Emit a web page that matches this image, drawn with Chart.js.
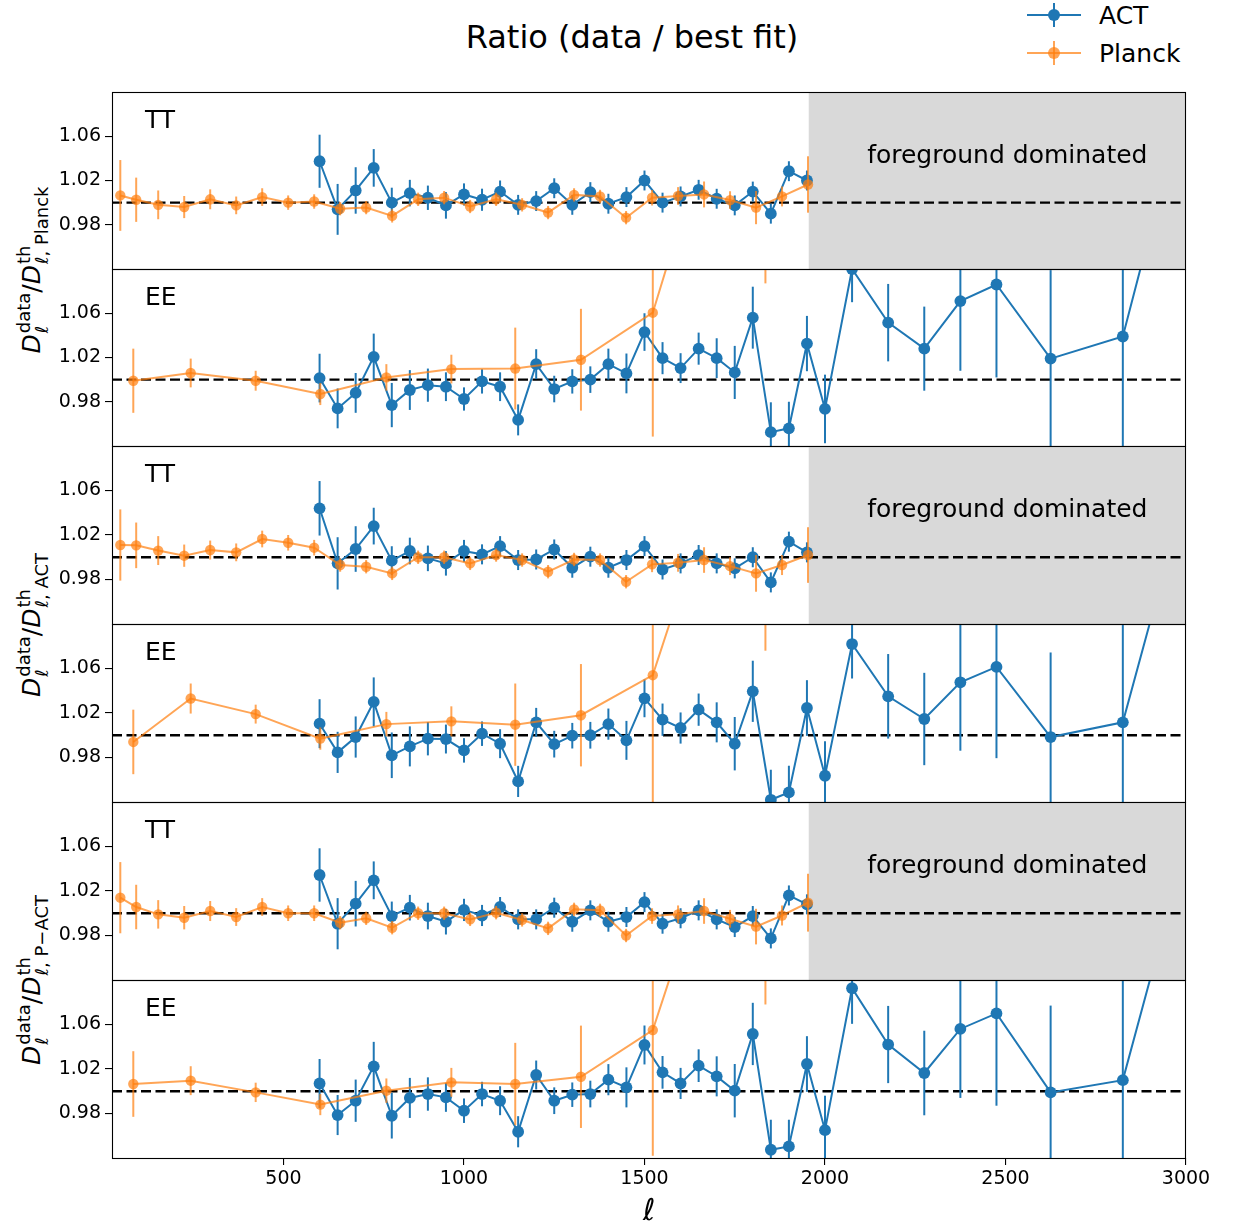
<!DOCTYPE html>
<html>
<head>
<meta charset="utf-8">
<script src="https://cdn.jsdelivr.net/npm/chart.js@4.4.1/dist/chart.umd.min.js"></script>
<style>
body { margin: 0; background: #fff; font-family: 'DejaVu Sans', sans-serif; }
#wrap { position: relative; width: 1233px; height: 1230px; overflow: hidden; background: #fff; }
#wrap canvas { position: absolute; left: 0; }
.title { position: absolute; left: 632px; top: 37px; transform: translate(-50%, -50%); font-size: 32px; white-space: nowrap; }
.leg { position: absolute; left: 1099px; transform: translateY(-50%); font-size: 25px; white-space: nowrap; }
.hl { position: absolute; left: 1027px; width: 54px; height: 2px; }
.hb { position: absolute; left: 1053px; width: 2px; height: 24px; }
.hd { position: absolute; left: 1048px; width: 12px; height: 12px; border-radius: 50%; }
.ylab { position: absolute; left: 33px; transform: translate(-50%, -50%) rotate(-90deg); font-size: 25px; white-space: nowrap; }
.ss { display: inline-block; vertical-align: middle; font-size: 18px; line-height: 18px; text-align: left; margin-left: 1px; }
.ss span { display: block; }
</style>
</head>
<body>
<div id="wrap">
  <div class="title">Ratio (data / best fit)</div>

  <div class="hl" style="top:14px;background:#1f77b4"></div>
  <div class="hb" style="top:3px;background:#1f77b4"></div>
  <div class="hd" style="top:9px;background:#1f77b4"></div>
  <div class="leg" style="top:15px">ACT</div>
  <div class="hl" style="top:52px;background:rgba(255,127,14,0.7)"></div>
  <div class="hb" style="top:41px;background:rgba(255,127,14,0.7)"></div>
  <div class="hd" style="top:47px;background:rgba(255,127,14,0.7)"></div>
  <div class="leg" style="top:53px">Planck</div>

  <div class="ylab" style="top:270px"><i>D</i><span class="ss"><span>data</span><span><i>ℓ</i></span></span>/<i>D</i><span class="ss"><span>th</span><span><i>ℓ</i>, Planck</span></span></div>
  <div class="ylab" style="top:625px"><i>D</i><span class="ss"><span>data</span><span><i>ℓ</i></span></span>/<i>D</i><span class="ss"><span>th</span><span><i>ℓ</i>, ACT</span></span></div>
  <div class="ylab" style="top:980px"><i>D</i><span class="ss"><span>data</span><span><i>ℓ</i></span></span>/<i>D</i><span class="ss"><span>th</span><span><i>ℓ</i>, P−ACT</span></span></div>
</div>
<script>
Chart.defaults.font.family = "'DejaVu Sans', sans-serif";
Chart.defaults.color = '#000';

// multipoles
const ellACT_TT = [600, 650, 700, 750, 800, 850, 900, 950, 1000, 1050, 1100, 1150, 1200, 1250, 1300,
  1350, 1400, 1450, 1500, 1550, 1600, 1650, 1700, 1750, 1800, 1850, 1900, 1950];
const ellACT_EE = [600, 650, 700, 750, 800, 850, 900, 950, 1000, 1050, 1100, 1150, 1200, 1250, 1300,
  1350, 1400, 1450, 1500, 1550, 1600, 1650, 1700, 1750, 1800, 1850, 1900, 1950,
  2000, 2075, 2175, 2275, 2375, 2475, 2625, 2825, 3025];
const ellPlanck_TT = [48, 92, 153, 225, 297, 369, 441, 513, 585, 657, 729, 801, 873, 945, 1017, 1089,
  1161, 1233, 1305, 1377, 1449, 1521, 1593, 1665, 1737, 1809, 1881, 1953];
const ellPlanck_EE = [84, 243, 423, 602, 785, 965, 1142, 1324, 1523, 1700, 1835];

// ratio to Planck best fit
const actTT_planck = [1.0374, 0.9939, 1.011, 1.0314, 1.000, 1.0086, 1.0044, 0.9975, 1.0074, 1.0026, 1.010, 0.998, 1.0014, 1.013,
  0.998, 1.0095, 0.999, 1.005, 1.020, 1.000, 1.0056, 1.0116, 1.0035, 0.9975, 1.010, 0.990, 1.0284, 1.020];
const actTT_planck_err = [0.024, 0.023, 0.021, 0.017, 0.0135, 0.012, 0.011, 0.012, 0.010, 0.010, 0.010, 0.009, 0.009, 0.009,
  0.009, 0.009, 0.009, 0.009, 0.009, 0.009, 0.009, 0.009, 0.009, 0.009, 0.009, 0.009, 0.009, 0.009];
const plTT_planck = [1.0065, 1.0026, 0.998, 0.996, 1.003, 0.9975, 1.005, 1.000, 1.001, 0.9945, 0.9955, 0.988, 1.003, 1.0045,
  0.9965, 1.003, 0.998, 0.991, 1.007, 1.0056, 0.9864, 1.0044, 1.006, 1.0074, 1.0023, 0.9955, 1.0056, 1.0164];
const plTT_planck_err = [0.032, 0.020, 0.013, 0.010, 0.009, 0.008, 0.008, 0.0065, 0.0065, 0.006, 0.006, 0.006, 0.006, 0.006,
  0.006, 0.006, 0.006, 0.006, 0.006, 0.006, 0.006, 0.007, 0.008, 0.0117, 0.008, 0.015, 0.009, 0.0255];
const actEE_planck = [1.0014, 0.974, 0.988, 1.0206, 0.977, 0.9906, 0.995, 0.9936, 0.9825, 0.9984, 0.9936, 0.9636, 1.014, 0.9915,
  0.9984, 1.000, 1.014, 1.0056, 1.043, 1.0194, 1.0104, 1.028, 1.0194, 1.0065, 1.056, 0.9525, 0.956, 1.0326,
  0.9735, 1.100, 1.0515, 1.028, 1.071, 1.086, 1.019, 1.039, 1.29];
const actEE_planck_err = [0.022, 0.018, 0.018, 0.021, 0.020, 0.018, 0.015, 0.013, 0.0105, 0.011, 0.013, 0.014, 0.0135, 0.012,
  0.011, 0.012, 0.014, 0.018, 0.017, 0.0145, 0.0135, 0.0145, 0.018, 0.024, 0.028, 0.027, 0.024, 0.025,
  0.031, 0.030, 0.035, 0.038, 0.063, 0.084, 0.080, 0.10, 0.12];
const plEE_planck = [0.999, 1.006, 0.999, 0.987, 1.002, 1.0095, 1.010, 1.018, 1.0605, 1.25, 1.20];
const plEE_planck_err = [0.029, 0.013, 0.009, 0.010, 0.012, 0.013, 0.037, 0.046, 0.112, 0.10, 0.113];

// ratio to ACT best fit
const actTT_act = [1.044, 0.9945, 1.0074, 1.028, 0.9969, 1.0056, 0.999, 0.9945, 1.0056, 1.0026, 1.010, 0.9975, 0.998, 1.007,
  0.9906, 1.0005, 0.9906, 0.9975, 1.010, 0.989, 0.9945, 1.002, 0.9945, 0.990, 1.000, 0.9774, 1.014, 1.0044];
const actTT_act_err = [0.0245, 0.0235, 0.0205, 0.0165, 0.013, 0.012, 0.0115, 0.011, 0.010, 0.009, 0.009, 0.009, 0.009, 0.009,
  0.009, 0.009, 0.009, 0.009, 0.009, 0.009, 0.009, 0.009, 0.009, 0.009, 0.009, 0.009, 0.009, 0.009];
const plTT_act = [1.011, 1.0107, 1.006, 1.0014, 1.0065, 1.0044, 1.0164, 1.013, 1.0086, 0.993, 0.9915, 0.9855, 1.000, 1.000,
  0.9945, 1.002, 0.9975, 0.987, 0.998, 0.9975, 0.978, 0.9936, 0.995, 0.9975, 0.992, 0.9855, 0.993, 1.002];
const plTT_act_err = [0.032, 0.0205, 0.013, 0.010, 0.0085, 0.008, 0.0075, 0.007, 0.007, 0.006, 0.006, 0.006, 0.006, 0.006,
  0.006, 0.006, 0.006, 0.006, 0.006, 0.006, 0.006, 0.007, 0.008, 0.0115, 0.008, 0.0165, 0.009, 0.025];
const actEE_act = [1.0104, 0.9846, 0.9984, 1.030, 0.982, 0.990, 0.9969, 0.9966, 0.9864, 1.0014, 0.9924, 0.9585, 1.0116, 0.992,
  0.9996, 1.000, 1.010, 0.9954, 1.0332, 1.014, 1.0065, 1.023, 1.0116, 0.9924, 1.0395, 0.942, 0.9486, 1.0245,
  0.9636, 1.082, 1.035, 1.0146, 1.0476, 1.0614, 0.9984, 1.0116, 1.25];
const actEE_act_err = [0.022, 0.0185, 0.0185, 0.022, 0.0205, 0.018, 0.015, 0.013, 0.011, 0.011, 0.013, 0.014, 0.013, 0.012,
  0.0115, 0.012, 0.014, 0.0175, 0.017, 0.0145, 0.014, 0.0145, 0.018, 0.024, 0.0275, 0.027, 0.024, 0.025,
  0.031, 0.031, 0.038, 0.0415, 0.0615, 0.082, 0.076, 0.10, 0.12];
const plEE_act = [0.994, 1.033, 1.019, 0.997, 1.010, 1.0125, 1.0095, 1.018, 1.054, 1.23, 1.19];
const plEE_act_err = [0.029, 0.0135, 0.0085, 0.010, 0.011, 0.0135, 0.037, 0.046, 0.114, 0.10, 0.114];

// ratio to P-ACT best fit
const actTT_pact = [1.0344, 0.9906, 1.0086, 1.0296, 0.9975, 1.005, 0.9975, 0.9924, 1.003, 0.998, 1.0056, 0.9945, 0.9945, 1.005,
  0.9924, 1.0026, 0.9924, 0.9966, 1.010, 0.9906, 0.9955, 1.0026, 0.9945, 0.9876, 0.9975, 0.9774, 1.016, 1.008];
const actTT_pact_err = [0.024, 0.023, 0.0205, 0.017, 0.013, 0.0115, 0.012, 0.0115, 0.010, 0.0095, 0.009, 0.009, 0.009, 0.009,
  0.009, 0.009, 0.009, 0.009, 0.009, 0.009, 0.009, 0.009, 0.009, 0.009, 0.009, 0.009, 0.009, 0.009];
const plTT_pact = [1.014, 1.0056, 0.999, 0.996, 1.002, 0.9966, 1.0056, 1.000, 1.000, 0.9915, 0.9955, 0.987, 1.000, 1.000,
  0.9945, 1.0005, 0.994, 0.9864, 1.0035, 1.0026, 0.980, 0.9975, 0.999, 1.002, 0.995, 0.988, 0.998, 1.0095];
const plTT_pact_err = [0.032, 0.020, 0.0128, 0.0105, 0.009, 0.008, 0.008, 0.007, 0.007, 0.006, 0.006, 0.006, 0.006, 0.006,
  0.006, 0.006, 0.006, 0.006, 0.006, 0.006, 0.006, 0.007, 0.008, 0.0115, 0.008, 0.016, 0.009, 0.026];
const actEE_pact = [1.007, 0.9786, 0.9915, 1.0224, 0.978, 0.994, 0.9975, 0.9945, 0.9825, 0.9975, 0.9915, 0.9636, 1.0146, 0.9915,
  0.9969, 0.9975, 1.0104, 1.0035, 1.0416, 1.017, 1.007, 1.023, 1.0134, 1.0005, 1.0515, 0.9474, 0.9504, 1.0245,
  0.965, 1.0926, 1.042, 1.0164, 1.056, 1.070, 0.999, 1.010, 1.25];
const actEE_pact_err = [0.022, 0.018, 0.019, 0.022, 0.0205, 0.018, 0.015, 0.013, 0.011, 0.011, 0.013, 0.014, 0.013, 0.012,
  0.011, 0.012, 0.014, 0.018, 0.0175, 0.0147, 0.014, 0.0147, 0.018, 0.024, 0.028, 0.027, 0.024, 0.025,
  0.031, 0.032, 0.0347, 0.038, 0.062, 0.083, 0.078, 0.10, 0.12];
const plEE_pact = [1.0065, 1.0095, 0.999, 0.988, 1.0005, 1.008, 1.0065, 1.013, 1.055, 1.23, 1.19];
const plEE_pact_err = [0.0295, 0.013, 0.0087, 0.0095, 0.011, 0.013, 0.037, 0.046, 0.113, 0.10, 0.112];

const yTicks = [0.98, 1.02, 1.06];
const xTicks = [500, 1000, 1500, 2000, 2500, 3000];
const foregroundStart = 1955;

const ACT_COLOR = '#1f77b4';
const PLANCK_COLOR = 'rgba(255,127,14,0.7)';

// shading, reference line, error bars, frame and labels
const panelPlugin = {
  id: 'panel',
  beforeDatasetsDraw(chart, args, o) {
    const { ctx, chartArea: a, scales: { x, y } } = chart;
    ctx.save();
    if (o.shaded) {
      const x0 = x.getPixelForValue(foregroundStart);
      ctx.fillStyle = '#d9d9d9';
      ctx.fillRect(x0, a.top, a.right - x0, a.bottom - a.top);
    }
    const y1 = y.getPixelForValue(1.0);
    ctx.strokeStyle = '#000';
    ctx.lineWidth = 2.4;
    ctx.setLineDash([10, 4.5]);
    ctx.beginPath();
    ctx.moveTo(a.left, y1);
    ctx.lineTo(a.right, y1);
    ctx.stroke();
    ctx.restore();
  },
  beforeDatasetDraw(chart, args) {
    const ds = chart.data.datasets[args.index];
    const { ctx, chartArea: a, scales: { x, y } } = chart;
    ctx.save();
    ctx.beginPath();
    ctx.rect(a.left, a.top, a.right - a.left, a.bottom - a.top);
    ctx.clip();
    ctx.strokeStyle = ds.borderColor;
    ctx.lineWidth = 2;
    ds.data.forEach((p, i) => {
      const e = ds.errors[i];
      const px = x.getPixelForValue(p.x);
      ctx.beginPath();
      ctx.moveTo(px, y.getPixelForValue(p.y - e));
      ctx.lineTo(px, y.getPixelForValue(p.y + e));
      ctx.stroke();
    });
    ctx.restore();
  },
  afterDatasetsDraw(chart, args, o) {
    const { ctx, chartArea: a, scales: { x, y } } = chart;
    ctx.save();
    ctx.strokeStyle = '#000';
    ctx.lineWidth = 1.1;
    ctx.strokeRect(a.left + 0.5, a.top + 0.5, a.right - a.left - 1, a.bottom - a.top);
    ctx.fillStyle = '#000';
    ctx.font = "25px 'DejaVu Sans'";
    ctx.textBaseline = 'alphabetic';
    ctx.textAlign = 'left';
    ctx.fillText(o.label, a.left + 33, a.top + 36);
    if (o.shaded) {
      ctx.textAlign = 'center';
      ctx.fillText('foreground dominated', x.getPixelForValue(2505), a.top + 71);
    }
    ctx.restore();
  }
};

const pts = (ell, v) => ell.map((l, i) => ({ x: l, y: v[i] }));

const panels = [
  { label: 'TT', shaded: true, actEll: ellACT_TT, act: actTT_planck, actErr: actTT_planck_err, plEll: ellPlanck_TT, pl: plTT_planck, plErr: plTT_planck_err },
  { label: 'EE', shaded: false, actEll: ellACT_EE, act: actEE_planck, actErr: actEE_planck_err, plEll: ellPlanck_EE, pl: plEE_planck, plErr: plEE_planck_err },
  { label: 'TT', shaded: true, actEll: ellACT_TT, act: actTT_act, actErr: actTT_act_err, plEll: ellPlanck_TT, pl: plTT_act, plErr: plTT_act_err },
  { label: 'EE', shaded: false, actEll: ellACT_EE, act: actEE_act, actErr: actEE_act_err, plEll: ellPlanck_EE, pl: plEE_act, plErr: plEE_act_err },
  { label: 'TT', shaded: true, actEll: ellACT_TT, act: actTT_pact, actErr: actTT_pact_err, plEll: ellPlanck_TT, pl: plTT_pact, plErr: plTT_pact_err },
  { label: 'EE', shaded: false, actEll: ellACT_EE, act: actEE_pact, actErr: actEE_pact_err, plEll: ellPlanck_EE, pl: plEE_pact, plErr: plEE_pact_err }
];

const panelTop = [92, 269, 446, 624, 802, 980];
const panelBottom = 1158;
const pad = 8; // larger than the point overflow Chart.js reserves
const wrap = document.getElementById('wrap');

panels.forEach((p, i) => {
  const last = i === panels.length - 1;
  const top = panelTop[i] - pad;
  const areaH = (last ? panelBottom : panelTop[i + 1]) - panelTop[i];
  const h = last ? 1230 - top : areaH + 2 * pad;
  const cv = document.createElement('canvas');
  cv.width = 1233;
  cv.height = h;
  cv.style.top = top + 'px';
  wrap.appendChild(cv);

  new Chart(cv, {
    type: 'line',
    data: {
      datasets: [
        {
          label: 'Planck', data: pts(p.plEll, p.pl), errors: p.plErr,
          borderColor: PLANCK_COLOR, backgroundColor: PLANCK_COLOR, borderWidth: 2,
          pointRadius: 5.2, pointBorderWidth: 0, order: 1, clip: 0
        },
        {
          label: 'ACT', data: pts(p.actEll, p.act), errors: p.actErr,
          borderColor: ACT_COLOR, backgroundColor: ACT_COLOR, borderWidth: 2,
          pointRadius: 5.9, pointBorderWidth: 0, order: 2, clip: 0
        }
      ]
    },
    options: {
      responsive: false,
      maintainAspectRatio: false,
      animation: false,
      devicePixelRatio: 1,
      layout: { padding: { top: pad, bottom: last ? 0 : pad, left: 0, right: 47 } },
      plugins: {
        legend: { display: false },
        tooltip: { enabled: false },
        panel: { label: p.label, shaded: p.shaded }
      },
      scales: {
        x: {
          type: 'linear', min: 25, max: 3000, display: last,
          afterFit: s => { if (last) s.height = 72; s.paddingLeft = 0; s.paddingRight = 0; },
          afterBuildTicks: s => { s.ticks = xTicks.map(v => ({ value: v })); },
          grid: { drawOnChartArea: false, tickLength: 7, color: '#000', lineWidth: 1.1 },
          border: { display: false },
          ticks: { font: { size: 19 }, padding: 3, maxRotation: 0, callback: v => String(v) },
          title: { display: true, text: 'ℓ', font: { size: 30, style: 'italic' }, padding: 0 }
        },
        y: {
          min: 0.94, max: 1.10,
          afterFit: s => { s.width = 112; s.paddingTop = 0; s.paddingBottom = 0; },
          afterBuildTicks: s => { s.ticks = yTicks.map(v => ({ value: v })); },
          grid: { drawOnChartArea: false, tickLength: 7, color: '#000', lineWidth: 1.1 },
          border: { display: false },
          ticks: { font: { size: 19 }, padding: 4, callback: v => v.toFixed(2) }
        }
      }
    },
    plugins: [panelPlugin]
  });
});
</script>
</body>
</html>
